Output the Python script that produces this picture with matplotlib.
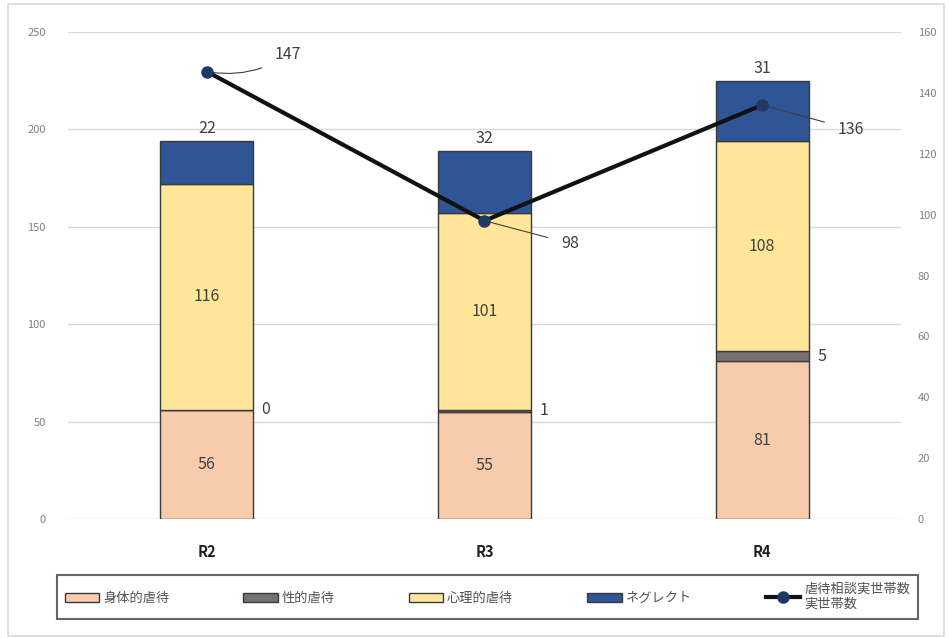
import numpy as np
import matplotlib
matplotlib.use('Agg')
import matplotlib.pyplot as plt
from matplotlib.patches import Rectangle

plt.rcParams['font.family'] = ['Noto Sans CJK JP', 'DejaVu Sans']

years = ['R2', 'R3', 'R4']
physical = [56, 55, 81]
sexual = [0, 1, 5]
psych = [116, 101, 108]
neglect = [22, 32, 31]
households = [147, 98, 136]

series = [
    ('身体的虐待', physical, '#F8CBAD'),
    ('性的虐待', sexual, '#767171'),
    ('心理的虐待', psych, '#FFE699'),
    ('ネグレクト', neglect, '#2F5597'),
]

fig = plt.figure(figsize=(9.5, 6.38), dpi=100)
fig.patches.append(Rectangle((0.008, 0.003), 0.986, 0.99, transform=fig.transFigure,
                             fill=False, edgecolor='#d9d9d9', linewidth=1.2))
ax = fig.add_axes([68 / 950, 1 - 519 / 638, 833 / 950, 487 / 638])
ax2 = ax.twinx()

x = np.arange(len(years))
width = 0.335
bottom = np.zeros(len(years))
handles = []
for name, vals, color in series:
    b = ax.bar(x, vals, width, bottom=bottom, color=color, edgecolor='#3a3a3a',
               linewidth=1.0, label=name, zorder=2)
    handles.append(b)
    for i, v in enumerate(vals):
        mid = bottom[i] + v / 2
        if name in ('身体的虐待', '心理的虐待'):
            ax.text(x[i], mid, str(v), ha='center', va='center', fontsize=11.5,
                    color='#404040', zorder=5)
        elif name == '性的虐待':
            ax.text(x[i] + width / 2 + 0.03, mid, str(v), ha='left', va='center',
                    fontsize=11.5, color='#404040', zorder=5)
        else:
            ax.text(x[i], bottom[i] + v + 2, str(v), ha='center', va='bottom',
                    fontsize=11.5, color='#404040', zorder=5)
    bottom += np.array(vals)

ax.set_ylim(0, 250)
ax.set_yticks(np.arange(0, 251, 50))
ax.set_xlim(-0.5, 2.5)
ax.set_xticks(x)
ax.set_xticklabels(years, fontsize=10.5, color='#202020', fontweight='bold')
ax.tick_params(axis='x', length=0, pad=18)
ax.tick_params(axis='y', length=0, labelsize=8, colors='#808080', pad=16)
ax.grid(axis='y', color='#d9d9d9', linewidth=1.0, zorder=0)
ax.set_axisbelow(True)

ax2.set_ylim(0, 160)
ax2.set_yticks(np.arange(0, 161, 20))
ax2.tick_params(axis='y', length=0, labelsize=8, colors='#808080', pad=12)
for a in (ax, ax2):
    for s in a.spines.values():
        s.set_visible(False)

line, = ax2.plot(x, households, color='#111111', linewidth=3, marker='o',
                 markersize=8, markerfacecolor='#1F3864', markeredgecolor='#1F3864',
                 label='虐待相談実世帯数\n実世帯数', zorder=6)
ax2.set_zorder(ax.get_zorder() + 1)
ax2.patch.set_visible(False)

offsets = [(0.245, 152.5), (0.277, 90.5), (0.273, 128)]
for i, v in enumerate(households):
    ax2.annotate(str(v), xy=(x[i], v), xytext=(x[i] + offsets[i][0], offsets[i][1]),
                 ha='left', va='center', fontsize=11.5, color='#404040',
                 arrowprops=dict(arrowstyle='-', color='#404040', lw=0.8,
                                 shrinkA=8, shrinkB=2,
                                 connectionstyle='arc3,rad=-0.2' if i == 0 else 'arc3,rad=0'))

leg = fig.legend(handles + [line], [s[0] for s in series] + ['虐待相談実世帯数\n実世帯数'],
                 loc='upper left', bbox_to_anchor=(57 / 950, 1 - 633 / 638, 861 / 950, 58 / 638),
                 mode='expand', ncol=5, fontsize=9.5, frameon=True, fancybox=False,
                 edgecolor='#404040', handlelength=2.6, handletextpad=0.3,
                 columnspacing=1.0, borderaxespad=0.0, borderpad=0.6)
leg.get_frame().set_linewidth(1.5)
for t in leg.get_texts():
    t.set_color('#505050')

fig.savefig('out.png', dpi=100)
